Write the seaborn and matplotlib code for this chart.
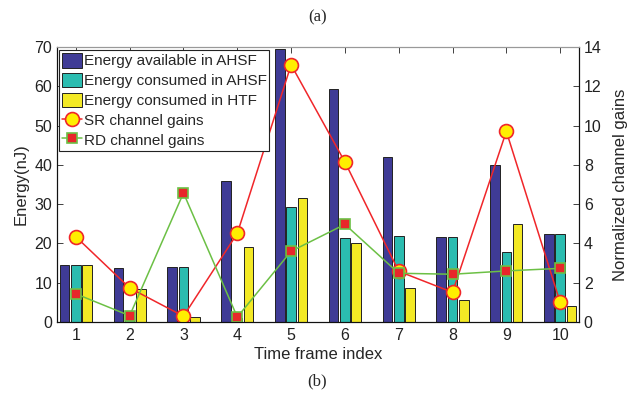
import matplotlib
matplotlib.use("Agg")
import matplotlib.pyplot as plt
import pandas as pd
import seaborn as sns

sns.set_style("white")
plt.rcParams["font.family"] = ["Liberation Sans", "DejaVu Sans"]

frames = [1, 2, 3, 4, 5, 6, 7, 8, 9, 10]
available_ahsf = [14.6, 13.7, 14.0, 36.0, 69.5, 59.4, 42.1, 21.6, 39.9, 22.5]
consumed_ahsf = [14.6, 1.0, 14.0, 1.0, 29.4, 21.4, 21.9, 21.6, 17.9, 22.5]
consumed_htf = [14.6, 8.5, 1.3, 19.1, 31.6, 20.1, 8.7, 5.7, 25.0, 4.0]
sr_gains = [4.34, 1.73, 0.29, 4.51, 13.1, 8.15, 2.58, 1.51, 9.71, 1.0]
rd_gains = [1.43, 0.32, 6.57, 0.25, 3.6, 4.97, 2.48, 2.43, 2.6, 2.73]

bar_names = ["Energy available in AHSF", "Energy consumed in AHSF", "Energy consumed in HTF"]
bar_colors = ["#3F3B96", "#2BBCB0", "#F3E925"]

bars = pd.DataFrame({
    "frame": frames * 3,
    "energy": available_ahsf + consumed_ahsf + consumed_htf,
    "series": sum([[n] * len(frames) for n in bar_names], []),
})
gains = pd.DataFrame({"pos": range(len(frames)), "sr": sr_gains, "rd": rd_gains})

fig = plt.figure(figsize=(6.35, 3.96), dpi=100)
ax = fig.add_axes([0.0898, 0.187, 0.822, 0.694])

sns.barplot(data=bars, x="frame", y="energy", hue="series", hue_order=bar_names,
            palette=bar_colors, width=0.63, gap=0.15, edgecolor="#222222",
            linewidth=0.7, saturation=1, ax=ax)
bar_handles, bar_labels = ax.get_legend_handles_labels()
ax.get_legend().remove()

ax2 = ax.twinx()
sns.lineplot(data=gains, x="pos", y="sr", color="#F0262A", lw=1.1, marker="o",
             markersize=10, markerfacecolor="#FFEE00", markeredgecolor="#F0262A",
             markeredgewidth=1.2, label="SR channel gains", ax=ax2)
sns.lineplot(data=gains, x="pos", y="rd", color="#6CC045", lw=1.1, marker="s",
             markersize=7, markerfacecolor="#E8262A", markeredgecolor="#6CC045",
             markeredgewidth=1.2, label="RD channel gains", ax=ax2)
line_handles, line_labels = ax2.get_legend_handles_labels()
ax2.get_legend().remove()

ax.set_xlim(-0.35, 9.35)
ax.set_ylim(0, 70)
ax.set_yticks(range(0, 71, 10))
ax2.set_ylim(0, 14)
ax2.set_yticks(range(0, 15, 2))
ax.set_xticks(range(len(frames)))
ax.set_xticklabels([str(f) for f in frames])

ax.set_xlabel("Time frame index", fontsize=12, labelpad=3)
ax.set_ylabel("Energy(nJ)", fontsize=12, labelpad=4)
ax2.set_ylabel("Normalized channel gains", fontsize=12, labelpad=8)

for a in (ax, ax2):
    a.tick_params(direction="in", length=4, labelsize=11.5, colors="#222222", width=0.6)
    for s in a.spines.values():
        s.set_linewidth(0.8)
ax.tick_params(axis="x", top=True, pad=4)
ax2.spines["top"].set_color("#999999")
ax.spines["top"].set_color("#999999")
for s in ("left", "bottom", "right"):
    ax.spines[s].set_color("#111111")
    ax2.spines[s].set_color("#111111")

leg = ax2.legend(bar_handles + line_handles, bar_labels + line_labels,
                 loc="upper left", bbox_to_anchor=(0.004, 0.99), fontsize=11,
                 frameon=True, fancybox=False, framealpha=1, borderpad=0.2,
                 labelspacing=0.28, handlelength=1.3, handleheight=1.1,
                 handletextpad=0.1, borderaxespad=0)
leg.get_frame().set_edgecolor("#222222")
leg.get_frame().set_linewidth(0.8)
leg.set_zorder(10)

fig.text(0.5, 0.955, "(a)", ha="center", va="center", fontsize=12,
         family=["Liberation Serif", "DejaVu Serif"])
fig.text(0.5, 0.038, "(b)", ha="center", va="center", fontsize=12,
         family=["Liberation Serif", "DejaVu Serif"])

fig.savefig("out.png", dpi=100)
